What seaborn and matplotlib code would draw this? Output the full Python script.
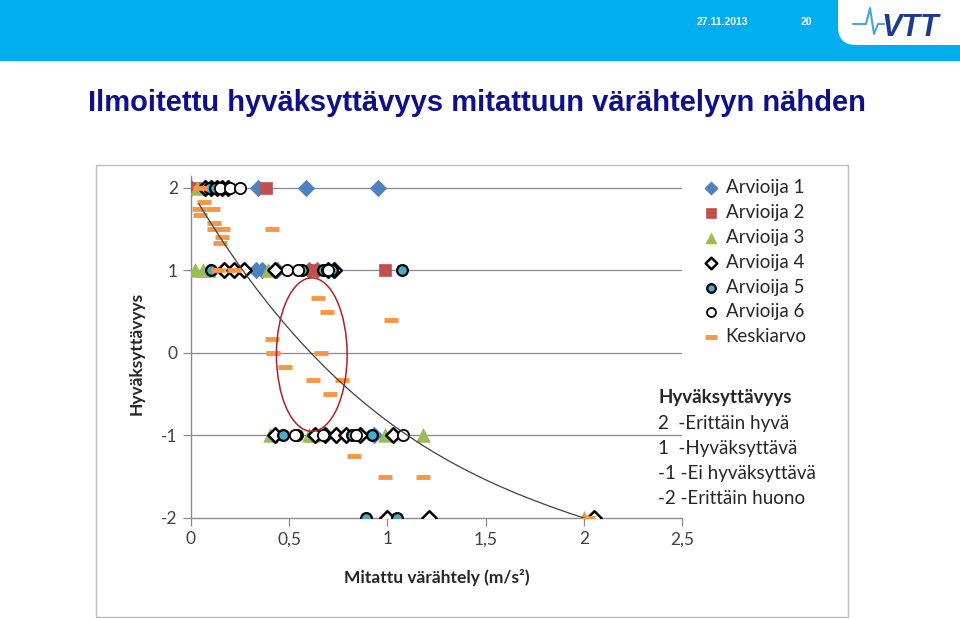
import matplotlib
matplotlib.use("Agg")
import matplotlib.pyplot as plt
import seaborn as sns
from matplotlib.patches import Rectangle, Ellipse, FancyBboxPatch
from matplotlib.lines import Line2D
from matplotlib.transforms import IdentityTransform

# --- Daten ---
a1_x = [0.0, 0.34, 0.585, 0.95, 0.33, 0.36, 0.44, 0.60, 0.64, 0.93]
a1_y = [2, 2, 2, 2, 1, 1, 1, 1, 1, -1]

a2_x = [0.02, 0.38, 0.62, 0.99]
a2_y = [2, 2, 1, 1]

a3_x = [0.03, 0.02, 0.06, 0.09, 0.39, 0.40, 0.60, 0.62, 0.99, 1.18, 2.0]
a3_y = [2, 1, 1, 1, 1, -1, -1, -1, -1, -1, -2]

a4_x = [0.07, 0.10, 0.13, 0.16, 0.19, 0.17, 0.22, 0.27, 0.43, 0.70, 0.73,
        0.43, 0.63, 0.68, 0.74, 0.79, 0.86, 1.03, 1.00, 1.21, 2.05]
a4_y = [2, 2, 2, 2, 2, 1, 1, 1, 1, 1, 1,
        -1, -1, -1, -1, -1, -1, -1, -2, -2, -2]

a5_x = [0.09, 0.12, 0.10, 0.565, 0.67, 0.69, 0.72, 1.075, 0.47, 0.54, 0.82, 0.92, 0.89, 1.05]
a5_y = [2, 2, 1, 1, 1, 1, 1, 1, -1, -1, -1, -1, -2, -2]

a6_x = [0.15, 0.20, 0.25, 0.49, 0.545, 0.70, 0.53, 0.67, 0.84, 1.08]
a6_y = [2, 2, 2, 1, 1, 1, -1, -1, -1, -1]

avg_x = [0.045, 0.066, 0.04, 0.11, 0.045, 0.117, 0.115, 0.165, 0.41, 0.16, 0.15,
         0.14, 0.22, 0.645, 0.69, 1.02, 0.41, 0.42, 0.66, 0.48, 0.62, 0.77,
         0.71, 0.83, 0.99, 1.18, 2.02]
avg_y = [2.0, 1.83, 1.75, 1.75, 1.67, 1.58, 1.5, 1.5, 1.5, 1.4, 1.33,
         1.0, 1.0, 0.67, 0.5, 0.4, 0.17, 0.0, 0.0, -0.17, -0.33, -0.33,
         -0.5, -1.25, -1.5, -1.5, -2.0]

x_ticks = [0, 0.5, 1, 1.5, 2, 2.5]
x_ticklabels = ["0", "0,5", "1", "1,5", "2", "2,5"]
y_ticks = [-2, -1, 0, 1, 2]

scale_lines = ["2  -Erittäin hyvä", "1  -Hyväksyttävä",
               "-1 -Ei hyväksyttävä", "-2 -Erittäin huono"]

W, H = 960, 619

sns.set_theme(style="white")
plt.rcParams['font.family'] = ['Lato', 'DejaVu Sans']
plt.rcParams['axes.unicode_minus'] = False

fig = plt.figure(figsize=(9.6, 6.19), dpi=100)

# --- Kopfzeile ---
fig.patches.append(Rectangle((0, 1 - 60 / H), 1, 60 / H, transform=fig.transFigure,
                             color="#00AEEF", zorder=0))
fig.patches.append(FancyBboxPatch((838, H - 45), 200, 100, boxstyle="round,pad=0,rounding_size=18",
                                  transform=IdentityTransform(), facecolor="white",
                                  edgecolor="none", zorder=1))
fig.text(722 / W, 1 - 22 / H, "27.11.2013", color="white", fontsize=7.5, fontweight="bold",
         ha="center", va="center", family=["Liberation Sans"])
fig.text(806 / W, 1 - 22 / H, "20", color="white", fontsize=7.5, fontweight="bold",
         ha="center", va="center", family=["Liberation Sans"])
fig.lines.append(Line2D([853 / W, 866 / W, 870 / W, 874 / W, 878 / W, 884 / W],
                        [1 - 24 / H, 1 - 24 / H, 1 - 8 / H, 1 - 34 / H, 1 - 24 / H, 1 - 24 / H],
                        transform=fig.transFigure, color="#4BA3DB", lw=1.5))
fig.text(910 / W, 1 - 28 / H, "VTT", color="#1B3C8C", fontsize=22, fontweight="bold",
         fontstyle="italic", ha="center", va="center", family=["Liberation Sans"])

fig.text(88 / W, 1 - 103 / H, "Ilmoitettu hyväksyttävyys mitattuun värähtelyyn nähden",
         color="#0F0F8C", fontsize=21, fontweight="bold", ha="left", va="center",
         family=["Liberation Sans"])

# Rahmen um das Diagramm
fig.patches.append(Rectangle((96 / W, 1 - 617 / H), (848 - 96) / W, (617 - 165) / H,
                             transform=fig.transFigure, fill=False, edgecolor="#BFBFBF", lw=1))

# --- Diagramm ---
ax = fig.add_axes([191 / W, (H - 518) / H, (682 - 191) / W, (518 - 175.6) / H])

sns.scatterplot(x=a1_x, y=a1_y, ax=ax, marker="D", s=70, color="#4F81BD",
                edgecolor="#4F81BD", linewidth=0.5, label="Arvioija 1", zorder=3)
sns.scatterplot(x=a2_x, y=a2_y, ax=ax, marker="s", s=70, color="#C0504D",
                edgecolor="#C0504D", linewidth=0.5, label="Arvioija 2", zorder=3)
sns.scatterplot(x=a3_x, y=a3_y, ax=ax, marker="^", s=95, color="#9BBB59",
                edgecolor="#9BBB59", linewidth=0.5, label="Arvioija 3", zorder=3)
sns.scatterplot(x=a4_x, y=a4_y, ax=ax, marker="D", s=55, color="white",
                edgecolor="black", linewidth=1.8, label="Arvioija 4", zorder=3)
sns.scatterplot(x=a5_x, y=a5_y, ax=ax, marker="o", s=60, color="#4BACC6",
                edgecolor="black", linewidth=1.6, label="Arvioija 5", zorder=3)
sns.scatterplot(x=a6_x, y=a6_y, ax=ax, marker="o", s=65, color="white",
                edgecolor="black", linewidth=1.3, label="Arvioija 6", zorder=3)
sns.scatterplot(x=avg_x, y=avg_y, ax=ax, marker="_", s=110, color="#F79646",
                linewidth=3.5, label="Keskiarvo", zorder=4)

# Trendlinie (Polynom über die Mittelwerte)
sns.regplot(x=avg_x, y=avg_y, order=3, ci=None, scatter=False, ax=ax,
            line_kws=dict(color="#404040", lw=0.9, zorder=5))

ax.add_patch(Ellipse((0.615, -0.02), 0.36, 1.86, fill=False, edgecolor="#B0202A",
                     lw=1.1, zorder=6))

ax.set_xlim(0, 2.5)
ax.set_ylim(-2, 2.15)
ax.set_xticks(x_ticks)
ax.set_xticklabels(x_ticklabels)
ax.set_yticks(y_ticks)
for yv in y_ticks[1:]:
    ax.axhline(yv, color="#8C8C8C", lw=0.9, zorder=1)

sns.despine(ax=ax, top=True, right=True)
for side in ["left", "bottom"]:
    ax.spines[side].set_color("#8C8C8C")
    ax.spines[side].set_linewidth(1.0)
ax.tick_params(axis="both", direction="out", length=6, width=0.9, color="#8C8C8C",
               labelsize=12.5, labelcolor="#404040", bottom=True, left=True)

ax.set_xlabel("Mitattu värähtely (m/s²)", fontsize=12.5, fontweight="bold", color="#262626")
ax.xaxis.set_label_coords(0.5, -0.15)
ax.set_ylabel("Hyväksyttävyys", fontsize=12.5, fontweight="bold", color="#262626")
ax.yaxis.set_label_coords(-0.095, 0.48)

leg = ax.legend(loc="upper left", bbox_to_anchor=(704 / W, 1 - 179 / H),
                bbox_transform=fig.transFigure, frameon=False, fontsize=13.5,
                handlelength=0.7, handletextpad=0.45, labelspacing=0.42,
                markerscale=0.8, borderaxespad=0, borderpad=0)
for t in leg.get_texts():
    t.set_color("#262626")

# Skala-Erklärung
fig.text(658 / W, 1 - 398 / H, "Hyväksyttävyys", fontsize=13.5, fontweight="bold",
         color="#262626", ha="left", va="center")
for i, line in enumerate(scale_lines):
    fig.text(658 / W, 1 - (423 + 25.3 * i) / H, line, fontsize=13.5, color="#262626",
             ha="left", va="center")

fig.savefig("out.png", dpi=100)
